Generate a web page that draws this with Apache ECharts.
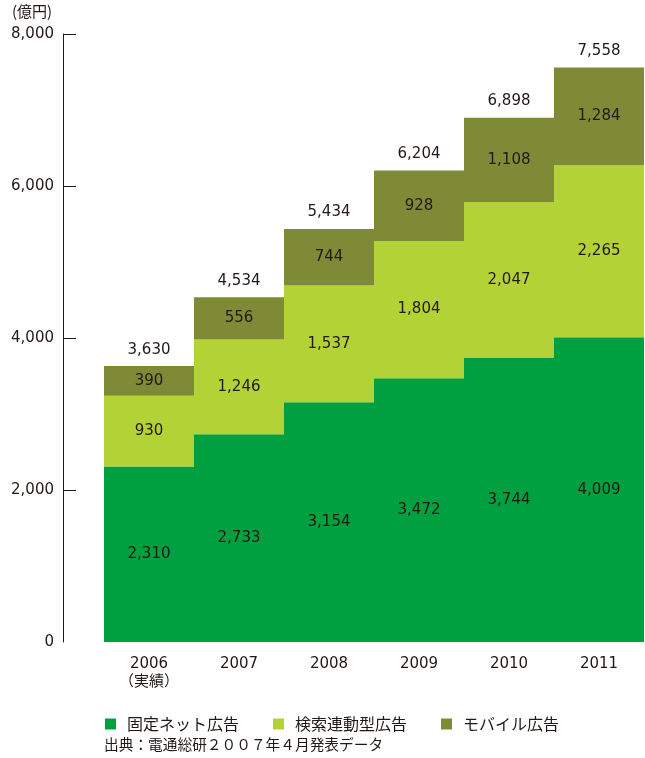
<!DOCTYPE html>
<html>
<head>
<meta charset="utf-8">
<style>
  html, body { margin: 0; padding: 0; background: #ffffff; }
  #chart { width: 645px; height: 758px; }
</style>
<script src="https://cdn.jsdelivr.net/npm/echarts@6/dist/echarts.min.js"></script>
</head>
<body>
<div id="chart"></div>
<script>
// Internet advertising market forecast (100 million yen), stacked by segment
const years = ['2006\n（実績）', '2007', '2008', '2009', '2010', '2011'];
const fixedNet = [2310, 2733, 3154, 3472, 3744, 4009];
const searchLinked = [930, 1246, 1537, 1804, 2047, 2265];
const mobile = [390, 556, 744, 928, 1108, 1284];
const totals = [3630, 4534, 5434, 6204, 6898, 7558];
const yTicks = [0, 2000, 4000, 6000, 8000];

const seriesNames = ['固定ネット広告', '検索連動型広告', 'モバイル広告'];
const colors = ['#00a040', '#b3d235', '#7f8a37'];

const numFont = "'DejaVu Sans', 'Noto Sans CJK JP', sans-serif";
const jpFont = "'Noto Sans CJK JP', sans-serif";
const textColor = '#231815';

const fmt = v => Number(v).toLocaleString('en-US');

const chart = echarts.init(document.getElementById('chart'), null, { renderer: 'canvas' });

function barSeries(name, data, color) {
  return {
    name: name,
    type: 'bar',
    stack: 'total',
    data: data,
    barCategoryGap: 0,
    barGap: 0,
    itemStyle: { color: color },
    label: {
      show: true,
      position: 'inside',
      color: textColor,
      fontFamily: numFont,
      fontSize: 15,
      formatter: p => fmt(p.value)
    },
    emphasis: { disabled: true }
  };
}

function legendAt(name, left) {
  return {
    data: [name],
    left: left,
    top: 711,
    itemWidth: 11,
    itemHeight: 11,
    itemGap: 0,
    icon: 'rect',
    selectedMode: false,
    textStyle: { color: textColor, fontFamily: jpFont, fontSize: 16, padding: [0, 0, 0, 6] }
  };
}

chart.setOption({
  animation: false,
  color: colors,
  grid: { left: 104, right: 1, top: 34, bottom: 116, containLabel: false },
  legend: [
    legendAt(seriesNames[0], 100),
    legendAt(seriesNames[1], 268),
    legendAt(seriesNames[2], 436)
  ],
  graphic: [
    {
      type: 'text',
      left: 12,
      top: 4,
      style: { text: '(億円)', fill: textColor, font: "15px 'Noto Sans CJK JP', sans-serif" }
    },
    {
      type: 'text',
      left: 104,
      top: 737,
      style: { text: '出典：電通総研２００７年４月発表データ', fill: textColor, font: "14.7px 'Noto Sans CJK JP', sans-serif" }
    }
  ],
  xAxis: {
    type: 'category',
    data: years,
    axisLine: { show: false },
    axisTick: { show: false },
    axisLabel: {
      color: textColor,
      fontFamily: numFont,
      fontSize: 15,
      lineHeight: 18,
      margin: 13,
      formatter: v => v
    }
  },
  yAxis: {
    type: 'value',
    min: yTicks[0],
    max: yTicks[yTicks.length - 1],
    interval: yTicks[1] - yTicks[0],
    offset: 41,
    splitLine: { show: false },
    axisLine: { show: true, lineStyle: { color: '#231815', width: 1 } },
    axisTick: {
      show: true,
      inside: true,
      length: 13,
      customValues: yTicks.filter(v => v > 0),
      lineStyle: { color: '#231815', width: 1 }
    },
    axisLabel: {
      color: textColor,
      fontFamily: numFont,
      fontSize: 15,
      margin: 9,
      formatter: v => fmt(v)
    }
  },
  series: [
    barSeries(seriesNames[0], fixedNet, colors[0]),
    barSeries(seriesNames[1], searchLinked, colors[1]),
    barSeries(seriesNames[2], mobile, colors[2]),
    {
      // category totals written above each stack
      name: 'total',
      type: 'scatter',
      data: totals,
      symbolSize: 0,
      itemStyle: { color: textColor },
      silent: true,
      emphasis: { disabled: true },
      label: {
        show: true,
        position: 'top',
        distance: 9,
        color: textColor,
        opacity: 1,
        fontFamily: numFont,
        fontSize: 15,
        formatter: p => fmt(p.value)
      }
    }
  ]
});
</script>
</body>
</html>
